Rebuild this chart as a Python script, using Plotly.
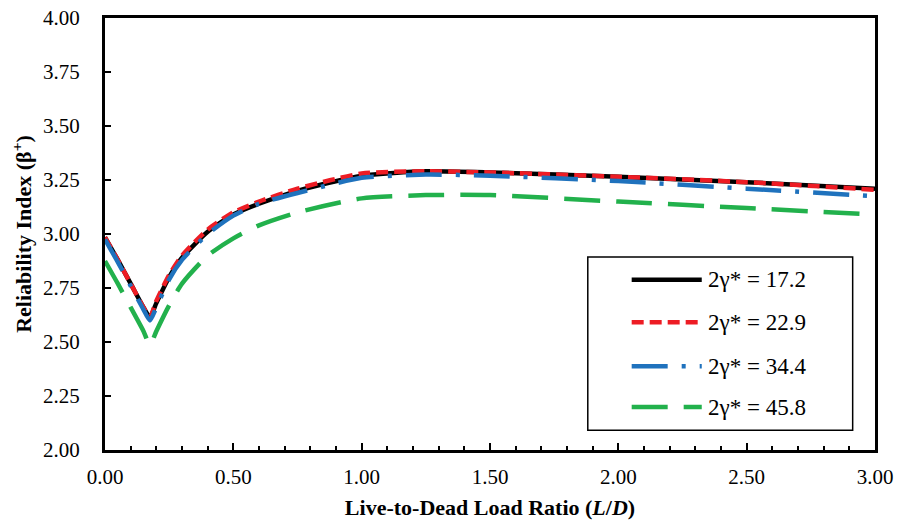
import plotly.graph_objects as go

# Live-to-dead load ratio (L/D)
x_ratio = [0, 0.05, 0.1, 0.15, 0.175, 0.2, 0.25, 0.3, 0.4, 0.5, 0.6, 0.75, 1.0, 1.25, 1.5, 2.0, 2.5, 3.0]

beta_172 = [2.985, 2.88, 2.77, 2.66, 2.615, 2.68, 2.80, 2.89, 3.01, 3.09, 3.14, 3.20, 3.27, 3.29, 3.285, 3.265, 3.24, 3.21]
beta_229 = [2.985, 2.88, 2.77, 2.66, 2.615, 2.69, 2.81, 2.90, 3.02, 3.10, 3.15, 3.21, 3.28, 3.29, 3.285, 3.265, 3.24, 3.205]
beta_344 = [2.975, 2.87, 2.76, 2.65, 2.60, 2.66, 2.79, 2.88, 3.00, 3.085, 3.14, 3.19, 3.26, 3.275, 3.27, 3.245, 3.21, 3.175]
beta_458 = [2.875, 2.77, 2.66, 2.55, 2.485, 2.55, 2.67, 2.77, 2.90, 2.98, 3.04, 3.10, 3.165, 3.18, 3.18, 3.15, 3.12, 3.09]

series_names = ["2γ* = 17.2", "2γ* = 22.9", "2γ* = 34.4", "2γ* = 45.8"]
series_values = [beta_172, beta_229, beta_344, beta_458]
series_colors = ["#000000", "#ED1C24", "#1F72BD", "#22B14C"]
series_dash = ["solid", "12px,6px", "36px,14px,4px,14px", "36px,16px"]

x_tickvals = [0, 0.5, 1.0, 1.5, 2.0, 2.5, 3.0]
x_ticktext = ["0.00", "0.50", "1.00", "1.50", "2.00", "2.50", "3.00"]
y_tickvals = [2.0, 2.25, 2.5, 2.75, 3.0, 3.25, 3.5, 3.75, 4.0]
y_ticktext = ["2.00", "2.25", "2.50", "2.75", "3.00", "3.25", "3.50", "3.75", "4.00"]

FONT = "Liberation Serif"

fig = go.Figure()
for name, vals, col, dash in zip(series_names, series_values, series_colors, series_dash):
    fig.add_trace(go.Scatter(
        x=x_ratio, y=vals, mode="lines", name=name,
        line=dict(color=col, width=4.5, dash=dash, shape="spline", smoothing=0.6),
        showlegend=False,
    ))

# Custom legend (box, sample lines, labels) in paper coordinates
fig.add_shape(type="rect", xref="paper", yref="paper", x0=0.627, x1=0.971, y0=0.046, y1=0.447,
              line=dict(color="black", width=1.5), fillcolor="white", layer="above")
row_y = [0.394, 0.296, 0.194, 0.0995]
for name, col, dash, ry in zip(series_names, series_colors, series_dash, row_y):
    fig.add_shape(type="line", xref="paper", yref="paper", x0=0.684, x1=0.775, y0=ry, y1=ry,
                  line=dict(color=col, width=4.5, dash=dash), layer="above")
    fig.add_annotation(xref="paper", yref="paper", x=0.781, y=ry, text=name, showarrow=False,
                       xanchor="left", yanchor="middle", font=dict(family=FONT, size=23, color="black"))

axis_common = dict(showline=True, linecolor="black", linewidth=3, mirror=True, showgrid=False,
                   zeroline=False, ticks="inside", tickcolor="black", tickwidth=2, automargin=False,
                   ticklabeloverflow="allow",
                   tickfont=dict(family=FONT, size=21, color="black"))

fig.update_xaxes(range=[0, 3], tickvals=x_tickvals, ticktext=x_ticktext, ticklen=7,
                 minor=dict(dtick=0.1, ticks="inside", ticklen=4, tickcolor="black", tickwidth=2),
                 ticklabelstandoff=6,
                 title=dict(text="<b>Live-to-Dead Load Ratio (<i>L</i>/<i>D</i>)</b>",
                            font=dict(family=FONT, size=22, color="black"), standoff=12),
                 **axis_common)
fig.update_yaxes(range=[2, 4], tickvals=y_tickvals, ticktext=y_ticktext, ticklen=6,
                 ticklabelstandoff=18,
                 title=dict(text="<b>Reliability Index (β<sup>+</sup>)</b>",
                            font=dict(family=FONT, size=22, color="black"), standoff=6),
                 **axis_common)

fig.update_layout(width=901, height=531, margin=dict(l=105, r=26, t=18, b=81),
                  plot_bgcolor="white", paper_bgcolor="white", showlegend=False,
                  font=dict(family=FONT, color="black"))

# remove the browser's default 8px body margin so the figure fills the window exactly
fig.write_html("out.html", config={"displayModeBar": False},
               post_script="document.body.style.margin='0';document.body.style.overflow='hidden';")
